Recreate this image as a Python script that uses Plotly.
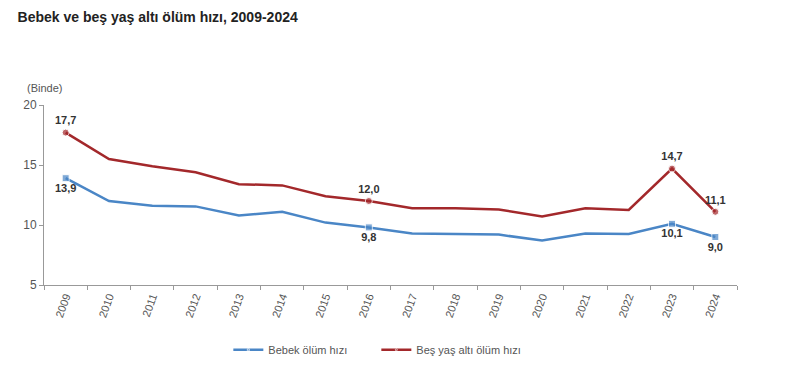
import plotly.graph_objects as go

years = [str(y) for y in range(2009, 2025)]
bebek = [13.9, 12.0, 11.6, 11.55, 10.8, 11.1, 10.2, 9.8, 9.3, 9.25, 9.2, 8.7, 9.3, 9.25, 10.1, 9.0]
bes_yas = [17.7, 15.5, 14.9, 14.4, 13.4, 13.3, 12.4, 12.0, 11.4, 11.4, 11.3, 10.7, 11.4, 11.25, 14.7, 11.1]
labeled_years = ["2009", "2016", "2023", "2024"]

def fmt(v):
    return f"{v:.1f}".replace(".", ",")

def labels(vals):
    return [fmt(v) if y in labeled_years else "" for y, v in zip(years, vals)]

def sizes():
    return [7 if y in labeled_years else 0 for y in years]

fig = go.Figure()
fig.add_trace(go.Scatter(
    x=years, y=bebek, name="Bebek ölüm hızı", mode="lines+markers+text",
    line=dict(color="#4a86c6", width=2.5),
    marker=dict(symbol="square", size=sizes(), color="#4a86c6"),
    text=labels(bebek), textposition="bottom center",
    textfont=dict(family="Liberation Sans, Arial", size=11, color="#333333", weight="bold"),
))
fig.add_trace(go.Scatter(
    x=years, y=bes_yas, name="Beş yaş altı ölüm hızı", mode="lines+markers+text",
    line=dict(color="#a3282b", width=2.5),
    marker=dict(symbol="circle", size=sizes(), color="#a3282b"),
    text=labels(bes_yas), textposition="top center",
    textfont=dict(family="Liberation Sans, Arial", size=11, color="#333333", weight="bold"),
))

fig.update_layout(
    width=800, height=368,
    margin=dict(l=36, r=71, t=97, b=91, autoexpand=False),
    paper_bgcolor="white", plot_bgcolor="white",
    font=dict(family="Liberation Sans, Arial", size=11, color="#555555"),
    title=dict(text="<b>Bebek ve beş yaş altı ölüm hızı, 2009-2024</b>",
               x=0.012, xanchor="left", y=0.988, yanchor="top",
               font=dict(size=14, color="#222222")),
    showlegend=True,
    legend=dict(orientation="h", x=0.266, xanchor="left", y=-0.36, yanchor="middle",
                font=dict(size=11, color="#555555"), itemwidth=30, entrywidth=103,
                traceorder="normal"),
    annotations=[dict(text="(Binde)", xref="paper", yref="paper", x=-0.027, y=1.05,
                      xanchor="left", yanchor="bottom", showarrow=False,
                      font=dict(size=11, color="#555555"))],
)
fig.update_xaxes(type="category", range=[-0.5, len(years) - 0.5],
                 tickson="boundaries", ticks="outside", ticklen=4,
                 tickcolor="#999999", showline=True, linecolor="#999999", linewidth=1,
                 showgrid=False, tickangle=-70, automargin=False,
                 tickfont=dict(size=11, color="#555555"))
fig.update_yaxes(range=[5, 20], tickvals=[5, 10, 15, 20], ticks="outside", ticklen=4,
                 tickcolor="#999999", showline=True, linecolor="#999999", linewidth=1,
                 showgrid=False, zeroline=False, automargin=False,
                 tickfont=dict(size=12, color="#555555"))

fig.write_html("out.html")
